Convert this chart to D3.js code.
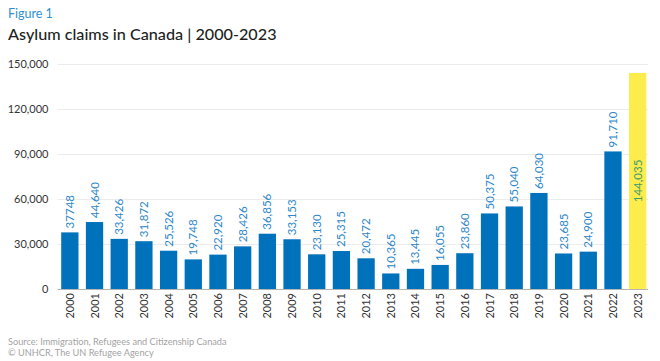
<!DOCTYPE html>
<html>
<head>
<meta charset="utf-8">
<script src="https://cdn.jsdelivr.net/npm/d3@7"></script>
<style>
  body { margin: 0; background: #fff; }
  svg { display: block; font-family: Lato, "Open Sans", sans-serif; }
</style>
</head>
<body>
<svg id="chart" width="660" height="361"></svg>
<script>
const years = ['2000','2001','2002','2003','2004','2005','2006','2007','2008','2009','2010','2011',
  '2012','2013','2014','2015','2016','2017','2018','2019','2020','2021','2022','2023']
const claims = [37748, 44640, 33426, 31872, 25526, 19748, 22920, 28426, 36856, 33153, 23130, 25315,
  20472, 10365, 13445, 16055, 23860, 50375, 55040, 64030, 23685, 24900, 91710, 144035]
// labels as printed (2000 has no thousands separator in the source)
const valueLabels = ['37748','44,640','33,426','31,872','25,526','19,748','22,920','28,426','36,856','33,153','23,130','25,315',
  '20,472','10,365','13,445','16,055','23,860','50,375','55,040','64,030','23,685','24,900','91,710','144,035']
const yTicks = [0, 30000, 60000, 90000, 120000, 150000]

const svg = d3.select('#chart')
const margin = { left: 57.5, right: 10, top: 64, bottom: 72 }

const x = d3.scaleBand()
  .domain(years)
  .range([margin.left, 650])
  .paddingInner(0.3)
  .paddingOuter(0.15)

const y = d3.scaleLinear()
  .domain([0, 150000])
  .range([289, 64])

// Header
svg.append('text')
  .attr('x', 8).attr('y', 18)
  .attr('font-size', 12.5)
  .attr('fill', '#2f8fd0')
  .text('Figure 1')

svg.append('text')
  .attr('x', 8).attr('y', 40)
  .attr('font-size', 16.2)
  .attr('font-weight', 500)
  .attr('fill', '#1f1f1f')
  .text('Asylum claims in Canada | 2000-2023')

// Gridlines
svg.append('g')
  .selectAll('line')
  .data(yTicks.slice(1))
  .join('line')
  .attr('x1', margin.left).attr('x2', 648)
  .attr('y1', d => y(d) + 0.5).attr('y2', d => y(d) + 0.5)
  .attr('stroke', '#ececec')
  .attr('stroke-width', 1)

// Y axis
const yAxis = svg.append('g')
  .attr('transform', `translate(${margin.left},0)`)
  .call(d3.axisLeft(y).tickValues(yTicks).tickSize(0).tickPadding(9).tickFormat(d3.format(',')))
yAxis.select('.domain').remove()
yAxis.selectAll('text')
  .attr('font-size', 11)
  .attr('fill', '#333')
  .attr('font-family', 'Lato, "Open Sans", sans-serif')

// Bars
svg.append('g')
  .selectAll('rect')
  .data(years)
  .join('rect')
  .attr('x', d => x(d))
  .attr('width', x.bandwidth())
  .attr('y', (d, i) => y(claims[i]))
  .attr('height', (d, i) => y(0) - y(claims[i]))
  .attr('fill', (d, i) => i === years.length - 1 ? '#fcec4c' : '#0072bc')

// Baseline
svg.append('line')
  .attr('x1', margin.left).attr('x2', 648)
  .attr('y1', 289.5).attr('y2', 289.5)
  .attr('stroke', '#b5b5b5')

// Value labels
svg.append('g')
  .selectAll('text')
  .data(years)
  .join('text')
  .attr('transform', (d, i) => {
    const cx = x(d) + x.bandwidth() / 2
    const last = i === years.length - 1
    const yy = last ? (y(claims[i]) + y(0)) / 2 : y(claims[i]) - 4
    return `translate(${cx + 4},${yy}) rotate(-90)`
  })
  .attr('text-anchor', (d, i) => i === years.length - 1 ? 'middle' : 'start')
  .attr('font-size', 11.5)
  .attr('fill', (d, i) => i === years.length - 1 ? '#3e9a70' : '#2d86c8')
  .text((d, i) => valueLabels[i])

// X axis labels
const xAxis = svg.append('g')
  .attr('transform', 'translate(0,289)')
  .call(d3.axisBottom(x).tickSize(0).tickPadding(0))
xAxis.select('.domain').remove()
xAxis.selectAll('text')
  .attr('transform', 'translate(4,4) rotate(-90)')
  .attr('text-anchor', 'end')
  .attr('dy', 0)
  .attr('y', 0)
  .attr('font-size', 11)
  .attr('fill', '#333')
  .attr('font-family', 'Lato, "Open Sans", sans-serif')

// Footer
svg.append('text')
  .attr('x', 8).attr('y', 345)
  .attr('font-size', 9.2)
  .attr('fill', '#a3a3a3')
  .text('Source: Immigration, Refugees and Citizenship Canada')

svg.append('text')
  .attr('x', 8).attr('y', 356)
  .attr('font-size', 9.2)
  .attr('fill', '#a3a3a3')
  .text('© UNHCR, The UN Refugee Agency')
</script>
</body>
</html>
